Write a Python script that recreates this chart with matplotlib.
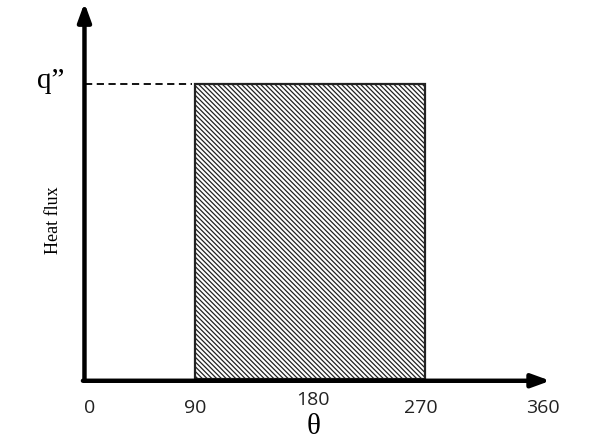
import matplotlib
matplotlib.use("Agg")
import matplotlib.pyplot as plt
from matplotlib.patches import Rectangle

# =========================================================
# Dados
# =========================================================
theta_ticks = [0, 90, 180, 270, 360]
theta_labels = ["0", "90", "180", "270", "360"]
bar_start = 90
bar_end = 270
q_flux = 1.0

plt.rcParams["hatch.linewidth"] = 0.9
plt.rcParams["hatch.color"] = "#777777"

fig = plt.figure(figsize=(5.97, 4.43), dpi=100)
ax = fig.add_axes([0, 0, 1, 1])
# pixel x = 80 + 1.278*deg ; pixel y = 379 - 295*q
ax.set_xlim(-80 / 1.278, (597 - 80) / 1.278)
ax.set_ylim(-(443 - 379) / 295, 379 / 295)
ax.axis("off")

# retangulo hachurado
ax.add_patch(Rectangle((bar_start, 0), bar_end - bar_start, q_flux,
                       facecolor="white", edgecolor="#222222", linewidth=1.6,
                       hatch="\\" * 7, zorder=2))

# linha tracejada ate q''
ax.plot([4, bar_start - 2], [q_flux, q_flux], color="black", linewidth=1.3,
        linestyle=(0, (4, 2.5)), zorder=3)

# eixos com seta
x0 = 3.5
ax.annotate("", xy=(x0, 1.275), xytext=(x0, -0.006),
            arrowprops=dict(arrowstyle="-|>,head_length=1.1,head_width=0.4",
                            color="black", linewidth=3.2, shrinkA=0, shrinkB=0),
            zorder=4)
ax.annotate("", xy=(368, -0.006), xytext=(x0 - 1.2, -0.006),
            arrowprops=dict(arrowstyle="-|>,head_length=1.1,head_width=0.4",
                            color="black", linewidth=3.2, shrinkA=0, shrinkB=0),
            zorder=4)

# rotulos do eixo theta (deslocamento em pixels para imitar o original)
label_dx = [10, 0, 3, -4, 3]
for t, lab, dx in zip(theta_ticks, theta_labels, label_dx):
    yy = -0.07 if t == 180 else -0.098
    ax.text(t + dx / 1.278, yy, lab, ha="center", va="center", fontsize=14,
            family="Open Sans", color="#222222")

ax.text(183, -0.163, "θ", ha="center", va="center", fontsize=21,
        family="Liberation Serif")
ax.text(-23, q_flux + 0.01, "q\u201d", ha="center", va="center", fontsize=21,
        family="Liberation Serif")
ax.text(-21, 0.54, "Heat flux", ha="center", va="center", rotation=90,
        fontsize=13, family="Liberation Serif")

fig.savefig("out.png", dpi=100)
plt.close(fig)
